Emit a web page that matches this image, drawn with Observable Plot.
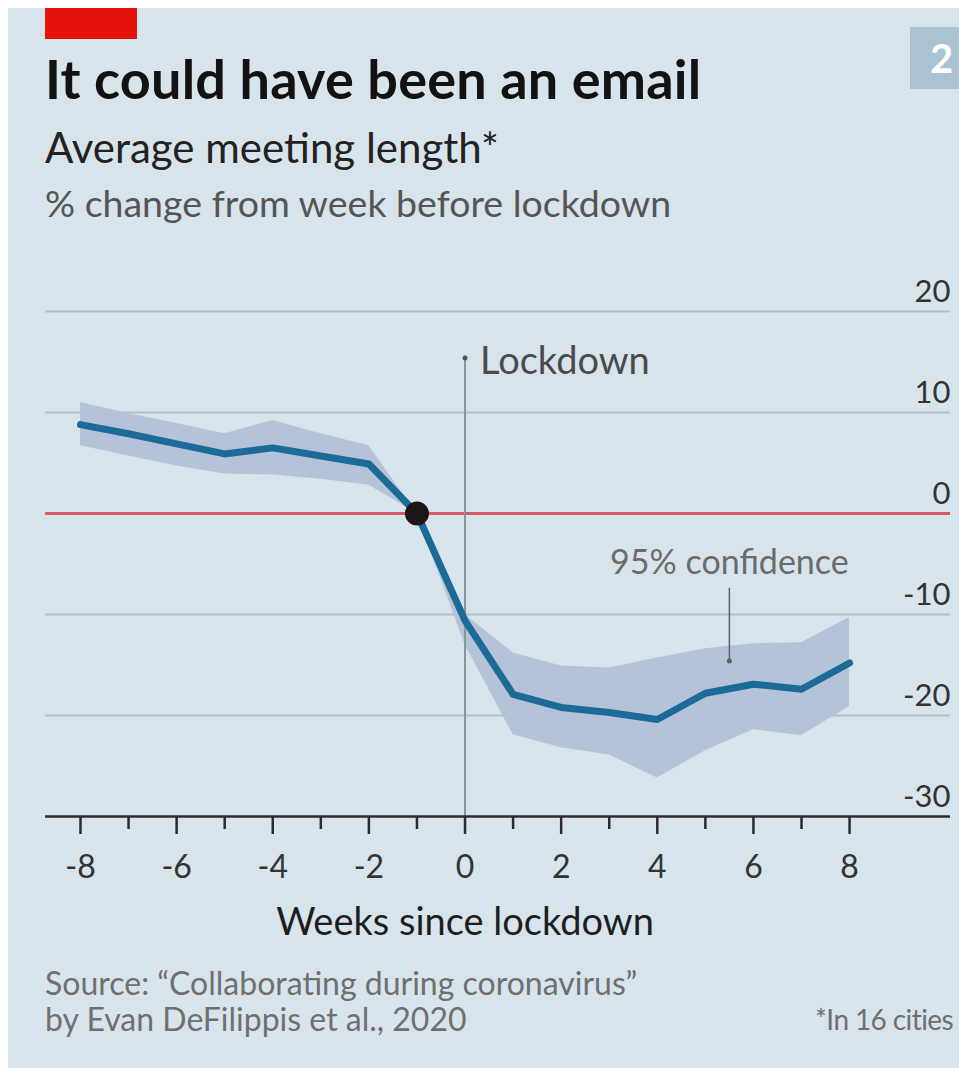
<!DOCTYPE html>
<html>
<head>
<meta charset="utf-8">
<script src="https://cdn.jsdelivr.net/npm/d3@7"></script>
<script src="https://cdn.jsdelivr.net/npm/@observablehq/plot@0.6"></script>
<style>
  body { margin: 0; background: #ffffff; font-family: Lato, "Open Sans", sans-serif; }
  #page { position: relative; width: 959px; height: 1075px; overflow: hidden; }
  #card { position: absolute; left: 8px; top: 8px; width: 951px; height: 1060px; background: #d8e4ec; }
  #redbar { position: absolute; left: 45px; top: 8px; width: 92px; height: 31px; background: #e3120b; }
  #badge { position: absolute; left: 910px; top: 27px; width: 49px; height: 62px; background: #abc2d3; color: #fff;
           font: 700 40px Lato, sans-serif; line-height: 62px; padding-left: 20px; box-sizing: border-box; }
  .t { position: absolute; left: 45px; line-height: 1; white-space: nowrap; }
  #title { top: 52px; font-size: 54px; font-weight: 700; color: #121212; letter-spacing: 0.2px; }
  #sub1 { top: 126px; font-size: 42px; color: #222; }
  #sub2 { top: 184px; font-size: 37.5px; color: #555; }
  #chart { position: absolute; left: 0; top: 240px; }
  #src1 { top: 967px; font-size: 32px; color: #6f6f6f; }
  #src2 { top: 1003px; font-size: 32px; color: #6f6f6f; }
  #note { position: absolute; right: 6px; top: 1005px; font-size: 28px; color: #6f6f6f; line-height: 1; letter-spacing: -0.6px; }
</style>
</head>
<body>
<div id="page">
  <div id="card"></div>
  <div id="redbar"></div>
  <div id="badge">2</div>
  <div class="t" id="title">It could have been an email</div>
  <div class="t" id="sub1">Average meeting length*</div>
  <div class="t" id="sub2">% change from week before lockdown</div>
  <div id="chart"></div>
  <div class="t" id="src1">Source: “Collaborating during coronavirus”</div>
  <div class="t" id="src2">by Evan DeFilippis et al., 2020</div>
  <div id="note">*In 16 cities</div>
</div>
<script>
// ---- data ----
const weeks      = [-8, -7, -6, -5, -4, -3, -2, -1, 0, 1, 2, 3, 4, 5, 6, 7, 8];
const meanChange = [8.8, 7.9, 6.9, 5.9, 6.5, 5.7, 4.9, 0, -10.6, -17.9, -19.2, -19.7, -20.4, -17.8, -16.9, -17.4, -14.8];
const upper95    = [11.0, 9.9, 8.9, 7.9, 9.2, 7.9, 6.7, 0, -10.0, -13.8, -15.1, -15.3, -14.3, -13.4, -12.9, -12.8, -10.3];
const lower95    = [6.7, 5.7, 4.7, 3.9, 3.8, 3.4, 2.8, 0, -13.0, -21.9, -23.2, -23.9, -26.2, -23.5, -21.4, -22.0, -19.1];
const yTicks     = [20, 10, 0, -10, -20, -30];
const xMajor     = [-8, -6, -4, -2, 0, 2, 4, 6, 8];
const xMinor     = [-7, -5, -3, -1, 1, 3, 5, 7];
const referenceWeek = -1;
const lockdownWeek = 0;
const lockdownLabel = "Lockdown";
const bandLabel = "95% confidence";
const bandLabelWeek = 5.5;
const xLabel = "Weeks since lockdown";

const data = weeks.map((w, i) => ({week: w, mean: meanChange[i], lo: lower95[i], hi: upper95[i]}));
const fmt = d => (d < 0 ? "-" + Math.abs(d) : String(d));

const chart = Plot.plot({
  width: 959,
  height: 720,
  marginLeft: 45,
  marginRight: 9,
  marginTop: 71,
  marginBottom: 144,
  style: {background: "transparent", fontFamily: "Lato, sans-serif", overflow: "visible"},
  x: {domain: [-8.728, 10.1]},
  y: {domain: [-30, 20]},
  marks: [
    Plot.ruleY([20, 10, -10, -20], {stroke: "#b3bec8", strokeWidth: 2}),
    Plot.areaY(data, {x: "week", y1: "lo", y2: "hi", fill: "#b5c3d8"}),
    Plot.ruleY([0], {stroke: "#d65a62", strokeWidth: 3}),
    Plot.ruleX([lockdownWeek], {y1: -30, y2: 15.6, stroke: "#8a949c", strokeWidth: 2}),
    Plot.dot([lockdownWeek], {x: d => d, y: 15.4, r: 2.5, fill: "#555", stroke: null}),
    Plot.text([lockdownLabel], {x: lockdownWeek, y: 15, text: d => d, textAnchor: "start", dx: 15, fontSize: 38, fill: "#4a4a4a"}),
    Plot.lineY(data, {x: "week", y: "mean", stroke: "#1b6a97", strokeWidth: 7, strokeLinejoin: "round"}),
    Plot.dot([referenceWeek], {x: d => d, y: 0, r: 12, fill: "#1b1517", stroke: null}),
    Plot.ruleX([bandLabelWeek], {y1: -7.4, y2: -14.6, stroke: "#5a6470", strokeWidth: 1.5}),
    Plot.dot([bandLabelWeek], {x: d => d, y: -14.6, r: 2.5, fill: "#5a6470", stroke: null}),
    Plot.text([bandLabel], {x: bandLabelWeek, y: -4.95, text: d => d, fontSize: 34, fill: "#6b6b6b"}),
    Plot.ruleY([-30], {stroke: "#2b2b2b", strokeWidth: 2.5}),
    Plot.axisX({ticks: xMinor, tickSize: 13, strokeWidth: 2.5, stroke: "#2b2b2b", text: null, label: null}),
    Plot.axisX({ticks: xMajor, tickSize: 18, tickPadding: 21, strokeWidth: 2.5, stroke: "#2b2b2b", tickFormat: fmt, fontSize: 32, fill: "#333", label: null}),
    Plot.text([xLabel], {x: lockdownWeek, frameAnchor: "bottom", dy: 118, text: d => d, fontSize: 38, fill: "#1e1e1e"}),
    Plot.axisY({ticks: yTicks, anchor: "right", tickSize: 0, tickPadding: 0, textAnchor: "end", dy: -19, tickFormat: fmt, fontSize: 31, fill: "#333", label: null})
  ]
});
document.getElementById("chart").appendChild(chart);
</script>
</body>
</html>
